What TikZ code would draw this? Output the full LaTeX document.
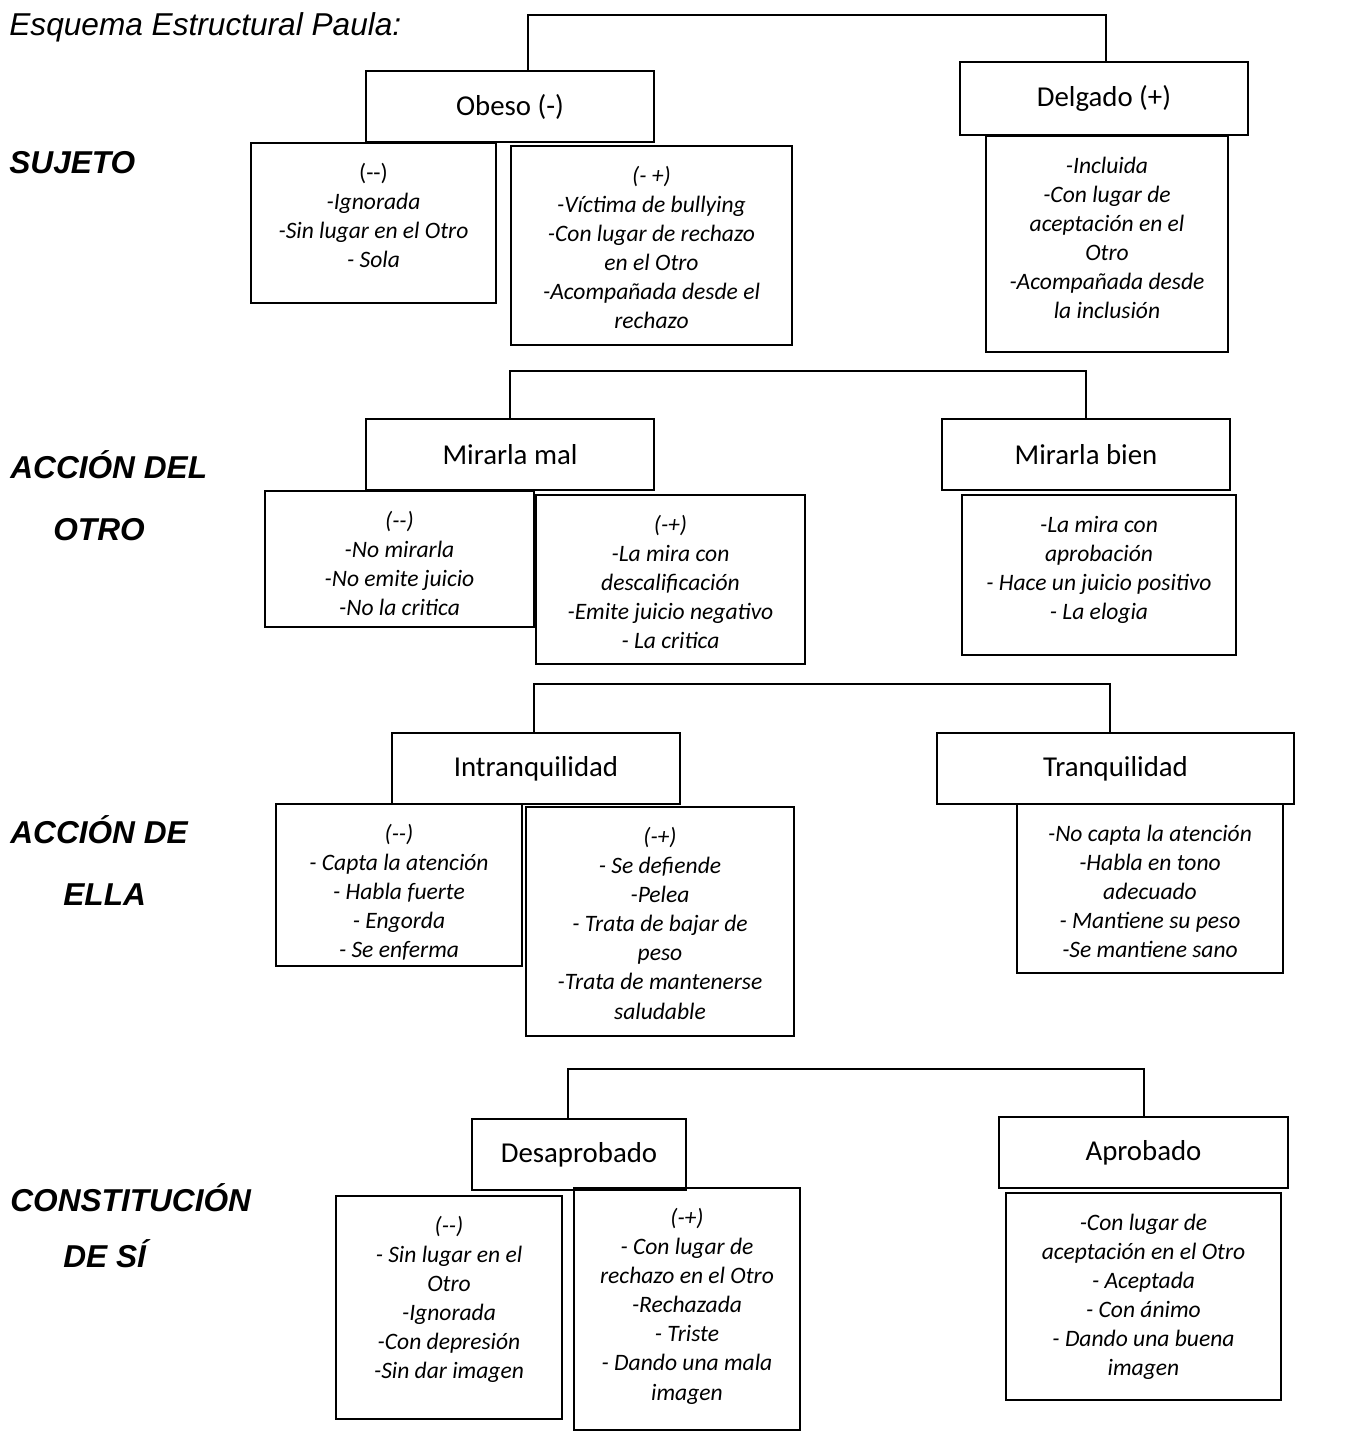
\documentclass[tikz,border=0pt]{standalone}
\usepackage{fontspec}
\setmainfont{Carlito}
\newfontfamily\arialfont{Liberation Sans}
\usepackage{xcolor}
\usepackage{tikz}

% text of a box: width, height, lines (top aligned)
\newcommand{\celltxt}[3]{\parbox[c][#2][t]{#1}{\centering\rule{0pt}{0.74cm}\ignorespaces#3}}

\begin{document}
\begin{tikzpicture}[x=0.02cm,y=-0.02cm,
  head/.style={draw, line width=1.4pt, minimum height=1.42cm, font=\fontsize{16.4}{20}\selectfont},
  cell/.style={draw, line width=1.4pt, inner sep=0pt, font=\fontsize{13.4}{16.6}\selectfont\itshape},
  tag/.style={anchor=base west, inner sep=0pt, align=left, font=\arialfont\fontsize{18}{35}\selectfont\bfseries\itshape},
  link/.style={line width=1.4pt}]

\useasboundingbox (0,0) rectangle (1355,1437);

\node[anchor=base west, inner sep=0pt, font=\arialfont\fontsize{18}{22}\selectfont\itshape] (title) at (9,35) {Esquema Estructural Paula:};

\node[tag] (lsujeto) at (9,173) {SUJETO};
\node[tag] (lotro) at (10,540) {ACCIÓN DEL\\\hspace*{0.86cm}OTRO};
\node[tag] (lella) at (10,905) {ACCIÓN DE\\\hspace*{1.06cm}ELLA};
\node[tag] (lsi) at (10,1267) {CONSTITUCIÓN\\[-0.12cm]\hspace*{1.06cm}DE SÍ};

% sujeto
\node[head, minimum width=5.76cm] (obeso) at (510,106.5) {Obeso (-)};
\node[head, minimum width=5.76cm, minimum height=1.46cm] (delgado) at (1104,98.5) {Delgado (+)};
\node[cell] (sujA) at (373.5,223) {\celltxt{4.9cm}{3.2cm}{{\upshape (-{}-)}\\-Ignorada\\-Sin lugar en el Otro\\- Sola}};
\node[cell] (sujB) at (651.5,245.5) {\celltxt{5.62cm}{3.98cm}{(- +)\\-Víctima de bullying\\-Con lugar de rechazo\\en el Otro\\-Acompañada desde el\\rechazo}};
\node[cell] (sujC) at (1107,244) {\celltxt{4.84cm}{4.32cm}{-Incluida\\-Con lugar de\\aceptación en el\\Otro\\-Acompañada desde\\la inclusión}};
\coordinate (top1) at (528,15);
\coordinate (top1r) at (1106,15);
\draw[link] (obeso.north -| top1) -- (top1) -- (top1r) -- (delgado.north -| top1r);

% accion del otro
\node[head, minimum width=5.76cm] (mal) at (510,454.5) {Mirarla mal};
\node[head, minimum width=5.76cm] (bien) at (1086,454.5) {Mirarla bien};
\node[cell] (otroA) at (399.5,559) {\celltxt{5.38cm}{2.72cm}{(-{}-)\\-No mirarla\\-No emite juicio\\-No la critica}};
\node[cell] (otroB) at (670.5,579.5) {\celltxt{5.38cm}{3.38cm}{(-+)\\-La mira con\\descalificación\\-Emite juicio negativo\\- La critica}};
\node[cell] (otroC) at (1099,575) {\celltxt{5.48cm}{3.2cm}{-La mira con\\aprobación\\- Hace un juicio positivo\\- La elogia}};
\coordinate (top2) at (800,371);
\draw[link] (mal.north) |- (top2) -| (bien.north);

% accion de ella
\node[head, minimum width=5.76cm] (intranq) at (536,768.5) {Intranquilidad};
\node[head, minimum width=7.14cm] (tranq) at (1115.5,768.5) {Tranquilidad};
\node[cell] (ellaA) at (399,885) {\celltxt{4.92cm}{3.24cm}{(-{}-)\\- Capta la atención\\- Habla fuerte\\- Engorda\\- Se enferma}};
\node[cell] (ellaB) at (660,921.5) {\celltxt{5.36cm}{4.58cm}{(-+)\\- Se defiende\\-Pelea\\- Trata de bajar de\\peso\\-Trata de mantenerse\\saludable}};
\node[cell] (ellaC) at (1150,888.5) {\celltxt{5.32cm}{3.38cm}{-No capta la atención\\-Habla en tono\\adecuado\\- Mantiene su peso\\-Se mantiene sano}};
\coordinate (top3) at (534,684);
\coordinate (top3r) at (1110,684);
\draw[link] (intranq.north -| top3) -- (top3) -- (top3r) -- (tranq.north -| top3r);

% constitucion de si
\node[head, minimum width=4.28cm] (desap) at (579,1154.5) {Desaprobado};
\node[head, minimum width=5.78cm] (aprob) at (1143.5,1152.5) {Aprobado};
\node[cell] (siA) at (449,1307.5) {\celltxt{4.52cm}{4.46cm}{(-{}-)\\- Sin lugar en el\\Otro\\-Ignorada\\-Con depresión\\-Sin dar imagen}};
\node[cell] (siB) at (687,1309) {\celltxt{4.52cm}{4.84cm}{(-+)\\- Con lugar de\\rechazo en el Otro\\-Rechazada\\- Triste\\- Dando una mala\\imagen}};
\node[cell] (siC) at (1143.5,1296.5) {\celltxt{5.5cm}{4.14cm}{-Con lugar de\\aceptación en el Otro\\- Aceptada\\- Con ánimo\\- Dando una buena\\imagen}};
\coordinate (top4) at (568,1069);
\coordinate (top4r) at (1144,1069);
\draw[link] (desap.north -| top4) -- (top4) -- (top4r) -- (aprob.north -| top4r);

\end{tikzpicture}
\end{document}
